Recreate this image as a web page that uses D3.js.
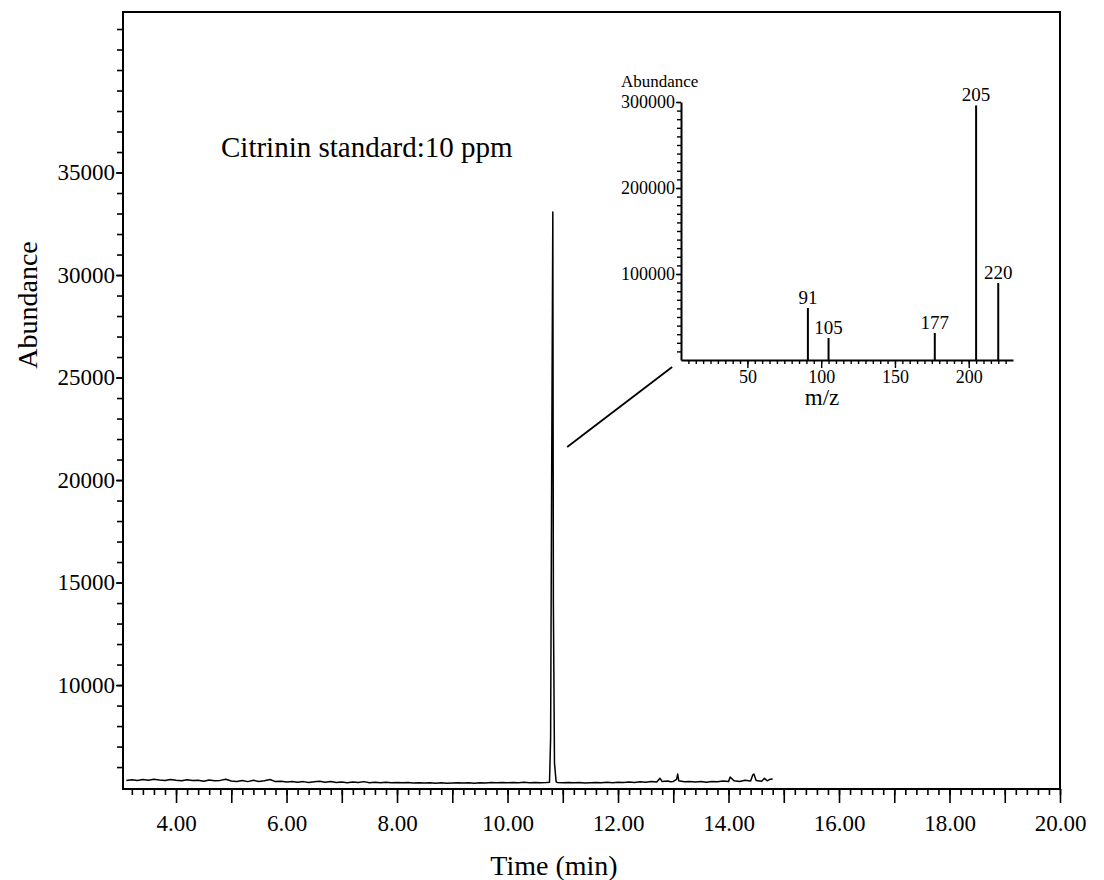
<!DOCTYPE html>
<html>
<head>
<meta charset="utf-8">
<script src="https://cdn.jsdelivr.net/npm/d3@7"></script>
<style>
  body { margin: 0; background: #fff; }
  svg { display: block; font-family: "Liberation Serif", "Times New Roman", serif; }
</style>
</head>
<body>
<svg id="chart" width="1104" height="880"></svg>
<script>
// total ion chromatogram, [time (min), abundance]
const tic = [
  [3.1,5350],[3.2,5380],[3.3,5340],[3.4,5395],[3.5,5360],[3.6,5410],[3.7,5370],[3.8,5345],[3.9,5390],[4.0,5355],
  [4.1,5330],[4.2,5385],[4.3,5340],[4.4,5360],[4.5,5310],[4.6,5370],[4.7,5330],[4.8,5350],[4.9,5405],[5.0,5320],
  [5.1,5300],[5.2,5340],[5.3,5290],[5.4,5355],[5.5,5300],[5.6,5330],[5.7,5395],[5.8,5290],[5.9,5310],[6.0,5270],
  [6.1,5300],[6.2,5260],[6.3,5290],[6.4,5250],[6.5,5280],[6.6,5310],[6.7,5260],[6.8,5300],[6.9,5250],[7.0,5270],
  [7.1,5240],[7.2,5275],[7.3,5250],[7.4,5290],[7.5,5240],[7.6,5260],[7.7,5230],[7.8,5255],[7.9,5235],[8.0,5250],
  [8.1,5230],[8.2,5245],[8.3,5225],[8.4,5240],[8.5,5220],[8.6,5235],[8.7,5215],[8.8,5230],[8.9,5210],[9.0,5225],
  [9.1,5240],[9.2,5220],[9.3,5235],[9.4,5215],[9.5,5240],[9.6,5225],[9.7,5245],[9.8,5230],[9.9,5250],[10.0,5235],
  [10.1,5250],[10.2,5230],[10.3,5255],[10.4,5240],[10.5,5250],[10.6,5235],[10.7,5245],
  [10.76,5260],[10.78,7400],[10.80,21000],[10.82,33076],[10.83,14000],[10.85,6200],[10.88,5280],
  [10.9,5250],[11.0,5235],[11.1,5250],[11.2,5230],[11.3,5245],[11.4,5225],[11.5,5240],[11.6,5250],[11.7,5230],
  [11.8,5255],[11.9,5240],[12.0,5260],[12.1,5245],[12.2,5270],[12.3,5250],[12.4,5280],[12.5,5265],[12.6,5300],
  [12.7,5270],[12.76,5450],[12.8,5290],[12.9,5320],[12.95,5280],[13.0,5300],[13.06,5400],[13.08,5660],[13.1,5330],
  [13.2,5280],[13.3,5300],[13.4,5270],[13.5,5290],[13.6,5260],[13.7,5300],[13.8,5280],[13.9,5320],[14.0,5290],
  [14.03,5510],[14.1,5330],[14.2,5300],[14.3,5360],[14.4,5320],[14.44,5620],[14.46,5660],[14.5,5340],[14.6,5310],
  [14.65,5450],[14.7,5330],[14.75,5400],[14.8,5420]
];

// mass spectrum of the peak
const mz = [91, 105, 177, 205, 220];
const mzAbundance = [60500, 25600, 31400, 296000, 89500];

const xMajorTicks = [4, 6, 8, 10, 12, 14, 16, 18, 20];
const yMajorTicks = [10000, 15000, 20000, 25000, 30000, 35000];
const insetYTicks = [100000, 200000, 300000];
const insetXTicks = [50, 100, 150, 200];

const title = "Citrinin standard:10 ppm";
// connector from peak to inset, in chart units [time, abundance]
const connector = [[11.08, 21610], [12.98, 25515]];

const svg = d3.select("#chart");

const x = d3.scaleLinear([3.04, 20], [123, 1060]);
const y = d3.scaleLinear([4930, 42830], [789, 12]);

// frame
svg.append("rect")
    .attr("x", 123).attr("y", 12)
    .attr("width", 1060 - 123).attr("height", 789 - 12)
    .attr("fill", "none").attr("stroke", "#000").attr("stroke-width", 2);

// x axis
svg.append("g")
    .attr("transform", "translate(0,789)")
    .call(d3.axisBottom(x).tickValues(d3.range(16, 101).map(i => i / 5)).tickSize(6).tickFormat("").tickSizeOuter(0))
    .call(g => g.select(".domain").remove());
svg.append("g")
    .attr("transform", "translate(0,789)")
    .call(d3.axisBottom(x).tickValues(d3.range(4, 21)).tickSize(14).tickFormat("").tickSizeOuter(0))
    .call(g => g.select(".domain").remove());
svg.append("g")
    .attr("transform", "translate(0,789)")
    .call(d3.axisBottom(x).tickValues(xMajorTicks).tickSize(0).tickPadding(26).tickFormat(d3.format(".2f")))
    .call(g => g.select(".domain").remove())
    .call(g => g.selectAll("text").attr("font-size", 23).attr("font-family", "Liberation Serif").attr("fill", "#000"));

// y axis
svg.append("g")
    .attr("transform", "translate(123,0)")
    .call(d3.axisLeft(y).tickValues(d3.range(6000, 42001, 1000)).tickSize(6).tickFormat("").tickSizeOuter(0))
    .call(g => g.select(".domain").remove());
svg.append("g")
    .attr("transform", "translate(123,0)")
    .call(d3.axisLeft(y).tickValues(yMajorTicks).tickSize(7).tickPadding(1).tickFormat(d3.format("d")))
    .call(g => g.select(".domain").remove())
    .call(g => g.selectAll("text").attr("font-size", 23).attr("font-family", "Liberation Serif").attr("fill", "#000"));
svg.selectAll(".tick line").attr("stroke-width", 1.6);

// axis titles
svg.append("text")
    .attr("x", 554).attr("y", 875)
    .attr("text-anchor", "middle").attr("font-size", 28)
    .text("Time (min)");
svg.append("text")
    .attr("transform", "translate(37,305) rotate(-90)")
    .attr("text-anchor", "middle").attr("font-size", 28)
    .text("Abundance");

svg.append("text")
    .attr("x", 221).attr("y", 157).attr("font-size", 29)
    .text(title);

// chromatogram
svg.append("path")
    .datum(tic)
    .attr("fill", "none").attr("stroke", "#000").attr("stroke-width", 1.5)
    .attr("stroke-linejoin", "round")
    .attr("d", d3.line().x(d => x(d[0])).y(d => y(d[1])));

svg.append("line")
    .attr("x1", x(connector[0][0])).attr("y1", y(connector[0][1]))
    .attr("x2", x(connector[1][0])).attr("y2", y(connector[1][1]))
    .attr("stroke", "#000").attr("stroke-width", 1.8);

// inset spectrum
const ix = d3.scaleLinear([5, 230], [681, 1013]);
const iy = d3.scaleLinear([0, 300000], [360, 102]);
const inset = svg.append("g");

inset.append("g")
    .attr("transform", "translate(0,360)")
    .call(d3.axisBottom(ix).tickValues(d3.range(10, 230, 5)).tickSize(4).tickFormat("").tickSizeOuter(0))
    .call(g => g.select(".domain").attr("stroke-width", 2));
inset.append("g")
    .attr("transform", "translate(0,360)")
    .call(d3.axisBottom(ix).tickValues(insetXTicks).tickSize(8).tickPadding(2).tickFormat(d3.format("d")))
    .call(g => g.select(".domain").remove())
    .call(g => g.selectAll("text").attr("font-size", 18).attr("font-family", "Liberation Serif").attr("fill", "#000"));

inset.append("g")
    .attr("transform", "translate(681,0)")
    .call(d3.axisLeft(iy).tickValues(d3.range(10000, 300001, 10000)).tickSize(4).tickFormat("").tickSizeOuter(0))
    .call(g => g.select(".domain").attr("stroke-width", 2));
inset.append("g")
    .attr("transform", "translate(681,0)")
    .call(d3.axisLeft(iy).tickValues(insetYTicks).tickSize(5).tickPadding(1).tickFormat(d3.format("d")))
    .call(g => g.select(".domain").remove())
    .call(g => g.selectAll("text").attr("font-size", 18).attr("font-family", "Liberation Serif").attr("fill", "#000"));
inset.selectAll(".tick line").attr("stroke-width", 1.4);

inset.selectAll("line.peak")
  .data(mz)
  .join("line")
    .attr("class", "peak")
    .attr("x1", d => ix(d)).attr("x2", d => ix(d))
    .attr("y1", iy(0)).attr("y2", (d, i) => iy(mzAbundance[i]))
    .attr("stroke", "#000").attr("stroke-width", 2);

inset.selectAll("text.peaklabel")
  .data(mz)
  .join("text")
    .attr("class", "peaklabel")
    .attr("x", d => ix(d)).attr("y", (d, i) => iy(mzAbundance[i]) - 4)
    .attr("text-anchor", "middle").attr("font-size", 19)
    .text(d => d);

inset.append("text")
    .attr("x", 621).attr("y", 87).attr("font-size", 17)
    .text("Abundance");
inset.append("text")
    .attr("x", 822).attr("y", 405).attr("text-anchor", "middle").attr("font-size", 23)
    .text("m/z");
</script>
</body>
</html>
